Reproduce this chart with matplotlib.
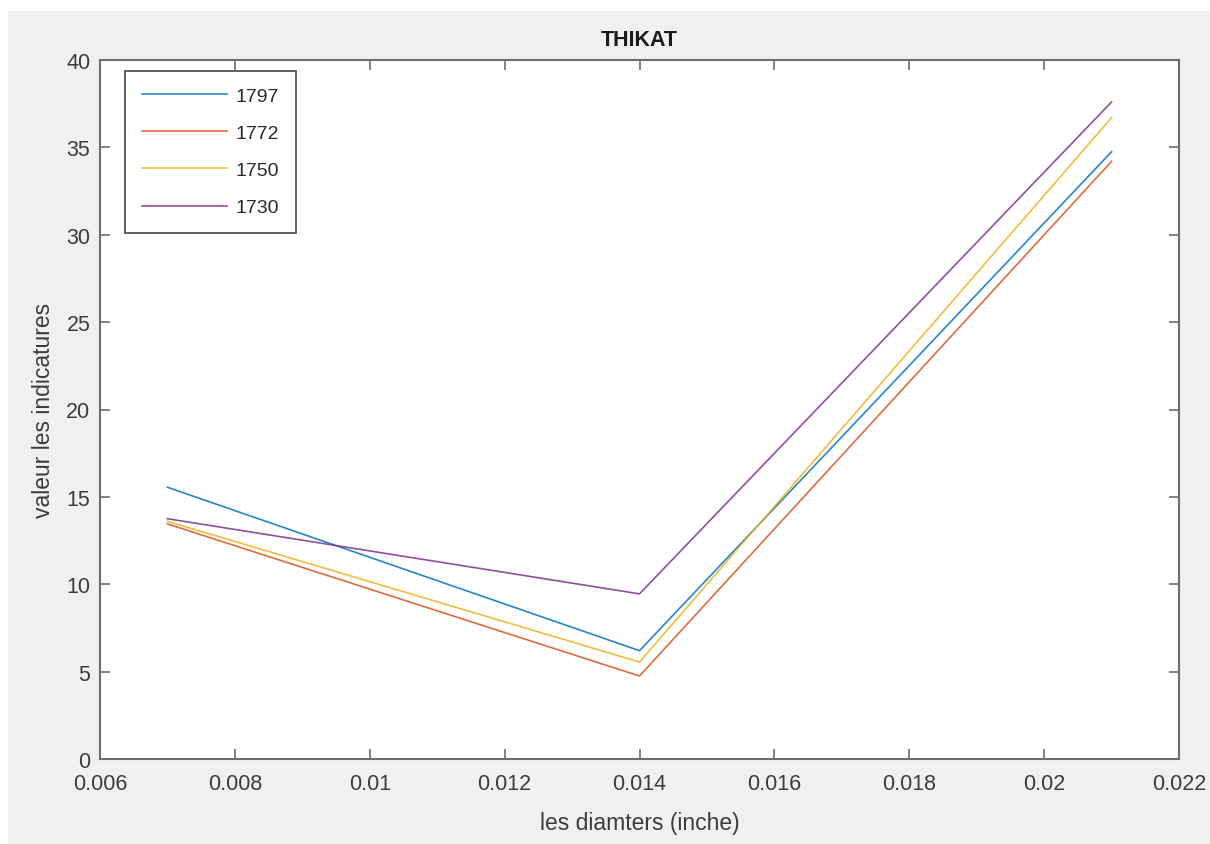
import matplotlib
matplotlib.use("Agg")
import matplotlib.pyplot as plt
from matplotlib.patches import Rectangle

plt.rcParams['font.family'] = ['Liberation Sans', 'DejaVu Sans']

# diameters (inches) and indicator values per year
diameters = [0.007, 0.014, 0.021]
years = ['1797', '1772', '1750', '1730']
v1797 = [15.55, 6.2, 34.75]
v1772 = [13.45, 4.75, 34.2]
v1750 = [13.6, 5.55, 36.7]
v1730 = [13.75, 9.45, 37.6]
series = [v1797, v1772, v1750, v1730]
colors = ['#0072BD', '#D95319', '#EDB120', '#7E2F8E']

W, H = 1210, 845
fig = plt.figure(figsize=(W / 100, H / 100), dpi=100, facecolor='white')

# light grey window background, kept behind the axes
bg = Rectangle((8 / W, 0), 1, (H - 12) / H, transform=fig.transFigure,
               facecolor='#f0f0f0', edgecolor='none', zorder=-10)
fig.add_artist(bg)

left, right, top, bottom = 100, 1179, 61, 760
ax = fig.add_axes([left / W, 1 - bottom / H, (right - left) / W, (bottom - top) / H])
ax.set_zorder(1)
ax.set_facecolor('white')

for yr, vals, c in zip(years, series, colors):
    ax.plot(diameters, vals, color=c, lw=1.2, alpha=0.85, label=yr)

ax.set_xlim(0.006, 0.022)
ax.set_ylim(0, 40)
ax.set_xticks([0.006, 0.008, 0.01, 0.012, 0.014, 0.016, 0.018, 0.02, 0.022])
ax.set_xticklabels(['0.006', '0.008', '0.01', '0.012', '0.014', '0.016', '0.018', '0.02', '0.022'])
ax.set_yticks(range(0, 41, 5))

for s in ax.spines.values():
    s.set_color('#6e6e6e')
    s.set_linewidth(1.5)
ax.tick_params(direction='in', length=7, width=1.2, color='#6e6e6e',
               top=True, right=True, labelsize=15.5, labelcolor='#3c3c3c')
ax.tick_params(axis='x', pad=10)
ax.tick_params(axis='y', pad=7)

ax.set_title('THIKAT', fontsize=15.5, fontweight='bold', color='#1a1a1a', pad=11)
ax.set_xlabel('les diamters (inche)', fontsize=16.5, color='#3c3c3c', labelpad=12)
ax.set_ylabel('valeur les indicatures', fontsize=16.5, color='#3c3c3c', labelpad=8)

leg = ax.legend(loc='upper left', bbox_to_anchor=(125 / W, 1 - 72 / H),
                bbox_transform=fig.transFigure, borderaxespad=0,
                fontsize=14, handlelength=4.4, handletextpad=0.45,
                labelspacing=1.0, borderpad=0.85, fancybox=False, framealpha=1)
leg.get_frame().set_edgecolor('#555555')
leg.get_frame().set_linewidth(1.3)
for t in leg.get_texts():
    t.set_color('#2a2a2a')

fig.savefig('out.png', dpi=100, facecolor='white')
